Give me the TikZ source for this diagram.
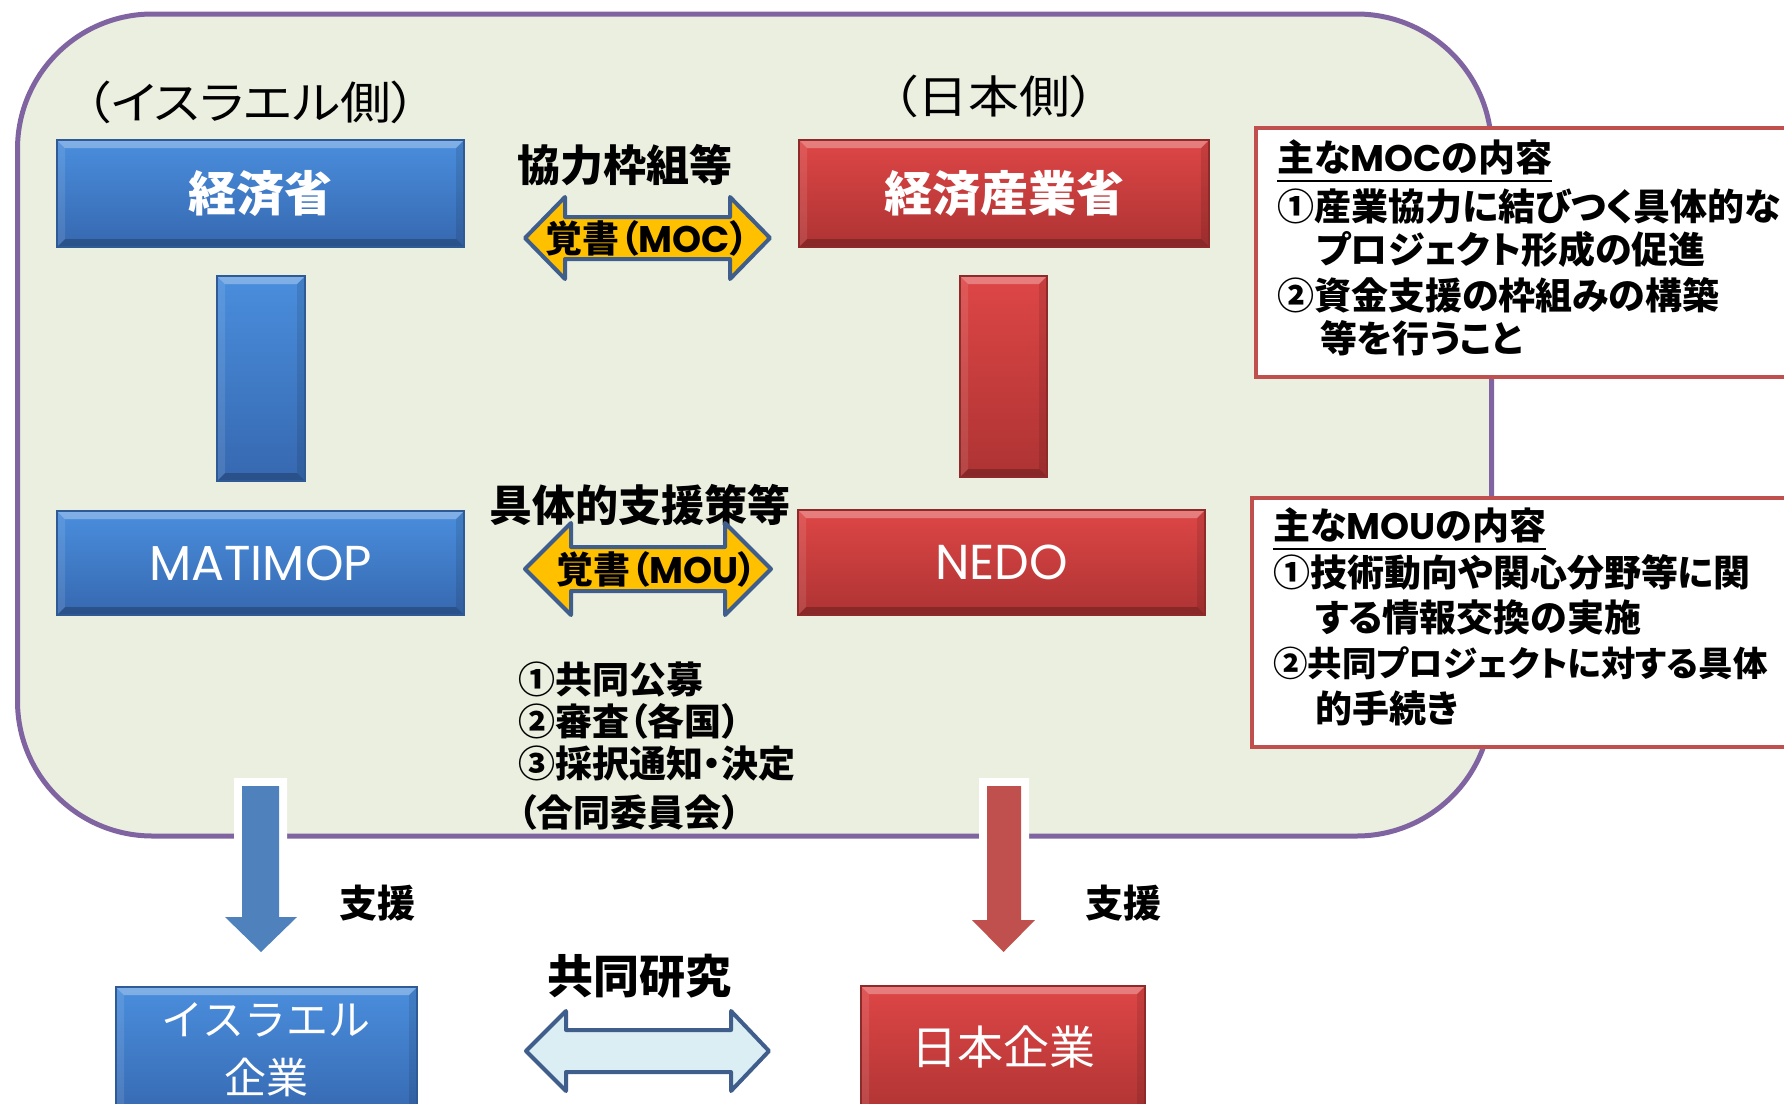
\documentclass[tikz,border=0pt]{standalone}
\usepackage{fontspec}
\setmainfont{Noto Sans CJK JP}[RawFeature={+palt}]
\newfontfamily\jpmono{Noto Sans CJK JP}
\newfontfamily\jpwide{Noto Sans CJK JP}[RawFeature={+palt},FakeStretch=1.13]
\newfontfamily\lat{Poppins}
\usetikzlibrary{calc}

\definecolor{panelfill}{HTML}{EBEFDF}
\definecolor{panelline}{HTML}{8064A2}
\definecolor{blueT}{HTML}{4A8EDD}
\definecolor{blueB}{HTML}{3668B0}
\definecolor{blueE}{HTML}{2E5A95}
\definecolor{redT}{HTML}{DE4646}
\definecolor{redB}{HTML}{AE3333}
\definecolor{redE}{HTML}{8E2A2A}
\definecolor{arrowblue}{HTML}{4F81BD}
\definecolor{arrowred}{HTML}{C0504D}
\definecolor{infoline}{HTML}{C0504D}
\definecolor{dblline}{HTML}{3F5E8C}
\definecolor{gold}{HTML}{FFC000}
\definecolor{paleblue}{HTML}{DBEEF4}

\newcommand\fsz[1]{\fontsize{#1}{#1}\selectfont}

\tikzset{
  bevel/.style={path picture={
    \path (path picture bounding box.north west) coordinate (bvnw)
          (path picture bounding box.north east) coordinate (bvne)
          (path picture bounding box.south west) coordinate (bvsw)
          (path picture bounding box.south east) coordinate (bvse);
    \fill[white,opacity=.30] (bvnw) -- (bvne) -- ([xshift=-8pt,yshift=-8pt]bvne) -- ([xshift=8pt,yshift=-8pt]bvnw) -- cycle;
    \fill[black,opacity=.22] (bvsw) -- (bvse) -- ([xshift=-8pt,yshift=8pt]bvse) -- ([xshift=8pt,yshift=8pt]bvsw) -- cycle;
    \fill[white,opacity=.10] (bvnw) -- (bvsw) -- ([xshift=8pt,yshift=8pt]bvsw) -- ([xshift=8pt,yshift=-8pt]bvnw) -- cycle;
    \fill[black,opacity=.10] (bvne) -- (bvse) -- ([xshift=-8pt,yshift=8pt]bvse) -- ([xshift=-8pt,yshift=-8pt]bvne) -- cycle;
  }},
  bluebox/.style={draw=blueE, line width=1.2pt, top color=blueT, bottom color=blueB, bevel, text=white, inner sep=0pt},
  redbox/.style={draw=redE, line width=1.2pt, top color=redT, bottom color=redB, bevel, text=white, inner sep=0pt},
  lbl/.style={inner sep=0pt, text=black},
  wlbl/.style={inner sep=0pt, text=white},
  infobox/.style={draw=infoline, line width=4pt, fill=white, inner sep=0pt},
  infotext/.style={inner sep=0pt, anchor=west, text=black, font=\bfseries\fsz{37}},
  dblarrow/.style={draw=dblline, line width=4pt, line join=round},
}

\begin{document}
\begin{tikzpicture}[x=1pt,y=-1pt]
\useasboundingbox (0,0) rectangle (1784,1103);
\clip (0,0) rectangle (1784,1103);
\fill[white] (0,0) rectangle (1784,1103);

% main panel
\node[draw=panelline, line width=5pt, fill=panelfill, rounded corners=135pt,
      minimum width=1474pt, minimum height=822pt, inner sep=0pt] (panel) at (754.5,425) {};

% side headings
\node[lbl, font=\jpwide\fsz{45}] (isside) at (251,102) {（イスラエル側）};
\node[lbl, font=\jpwide\fsz{45}] (jpside) at (994,96) {（日本側）};

% top boxes
\node[bluebox, minimum width=407pt, minimum height=107pt, font=\bfseries\fsz{48}] (ismin) at (260.5,193.5) {経済省};
\node[redbox, minimum width=410pt, minimum height=107pt, font=\bfseries\fsz{48}] (jpmin) at (1004,193.5) {経済産業省};

% vertical bars
\node[bluebox, minimum width=88pt, minimum height=205pt] (isbar) at (261,378.5) {};
\node[redbox, minimum width=87pt, minimum height=201pt] (jpbar) at (1003.5,376.5) {};

% agency boxes
\node[bluebox, minimum width=407pt, minimum height=104pt, font=\lat\fsz{49}] (matimop) at (260.5,563) {MATIMOP};
\node[redbox, minimum width=407pt, minimum height=105pt, font=\lat\fsz{49}] (nedo) at (1001.5,562.5) {NEDO};

% MOC arrow
\node[lbl, font=\bfseries\fsz{43}] (moclbl) at (625,165) {協力枠組等};
\coordinate (mocL) at (525,238);
\coordinate (mocR) at (770,238);
\filldraw[dblarrow, fill=gold] (mocL) -- (565,197) -- (565,217) -- (730,217) -- (730,197) -- (mocR)
   -- (730,279) -- (730,259) -- (565,259) -- (565,279) -- cycle;
\node[lbl, font=\bfseries\fsz{37}] (moctxt) at (647,238) {覚書（{\lat MOC}）};

% MOU arrow
\node[lbl, font=\bfseries\fsz{43}] (moulbl) at (640,505) {具体的支援策等};
\coordinate (mouL) at (525,569);
\coordinate (mouR) at (771,569);
\filldraw[dblarrow, fill=gold] (mouL) -- (571,523) -- (571,547) -- (725,547) -- (725,523) -- (mouR)
   -- (725,615) -- (725,591) -- (571,591) -- (571,615) -- cycle;
\node[lbl, font=\bfseries\fsz{37}] (moutxt) at (657,569) {覚書（{\lat MOU}）};

% steps list
\node[lbl, anchor=west, font=\bfseries\fsz{37}] (st1) at (518,680) {①共同公募};
\node[lbl, anchor=west, font=\bfseries\fsz{37}] (st2) at (518,721) {②審査（各国）};
\node[lbl, anchor=west, font=\bfseries\fsz{37}] (st3) at (518,764) {③採択通知・決定};
\node[lbl, anchor=west, font=\bfseries\fsz{37}] (st4) at (518,812) {（合同委員会）};

% MOC info box
\node[infobox, minimum width=544pt, minimum height=249pt] (mocbox) at (1528,252.5) {};
\node[infotext] (moc0) at (1277,157) {主な{\lat MOC}の内容};
\draw[line width=2.5pt] ([yshift=-6pt]moc0.south west) -- ([yshift=-6pt]moc0.south east);
\node[infotext] (moc1) at (1277,207) {①産業協力に結びつく具体的な};
\node[infotext] (moc2) at (1316,249) {プロジェクト形成の促進};
\node[infotext] (moc3) at (1277,295) {②資金支援の枠組みの構築};
\node[infotext] (moc4) at (1320,338) {等を行うこと};

% MOU info box
\node[infobox, minimum width=548pt, minimum height=249pt] (moubox) at (1526,622.5) {};
\node[infotext] (mou0) at (1273,525) {主な{\lat MOU}の内容};
\draw[line width=2.5pt] ([yshift=-6pt]mou0.south west) -- ([yshift=-6pt]mou0.south east);
\node[infotext] (mou1) at (1273,572) {①技術動向や関心分野等に関};
\node[infotext] (mou2) at (1315,617) {する情報交換の実施};
\node[infotext, font=\bfseries\fsz{34.5}] (mou3) at (1273,663) {②共同プロジェクトに対する具体};
\node[infotext] (mou4) at (1315,708) {的手続き};

% companies
\node[bluebox, minimum width=301pt, minimum height=133pt] (isco) at (266.5,1053.5) {};
\node[wlbl, font=\jpmono\fsz{42}] (iscot1) at (266,1020) {イスラエル};
\node[wlbl, font=\jpmono\fsz{42}] (iscot2) at (266,1077) {企業};
\node[redbox, minimum width=284pt, minimum height=134pt] (jpco) at (1003,1053) {};
\node[wlbl, font=\fsz{46}] (jpcot) at (1003,1047) {日本企業};

% down arrows (support)
\coordinate (bdTip) at (261,952);
\coordinate (rdTip) at (1003.5,952);
\path[draw=white, line width=16pt] (242,786) -- (279,786) -- (279,917) -- (297,917) -- (bdTip) -- (225,917) -- (242,917) -- cycle;
\path[draw=white, line width=16pt] (987,786) -- (1021,786) -- (1021,920) -- (1035,920) -- (rdTip) -- (972,920) -- (987,920) -- cycle;
\fill[white] (200,842) rectangle (320,965);
\fill[white] (940,842) rectangle (1060,965);
\fill[arrowblue] (242,786) -- (279,786) -- (279,917) -- (297,917) -- (bdTip) -- (225,917) -- (242,917) -- cycle;
\fill[arrowred] (987,786) -- (1021,786) -- (1021,920) -- (1035,920) -- (rdTip) -- (972,920) -- (987,920) -- cycle;
\node[lbl, font=\bfseries\fsz{38}] (sup1) at (377,903) {支援};
\node[lbl, font=\bfseries\fsz{38}] (sup2) at (1123,903) {支援};

% joint research arrow
\node[lbl, font=\bfseries\fsz{46}] (jrlbl) at (639,976) {共同研究};
\coordinate (jrL) at (526,1051);
\coordinate (jrR) at (769,1051);
\filldraw[dblarrow, fill=paleblue] (jrL) -- (566,1011) -- (566,1030) -- (731,1030) -- (731,1011) -- (jrR)
   -- (731,1091) -- (731,1072) -- (566,1072) -- (566,1091) -- cycle;
\end{tikzpicture}
\end{document}
